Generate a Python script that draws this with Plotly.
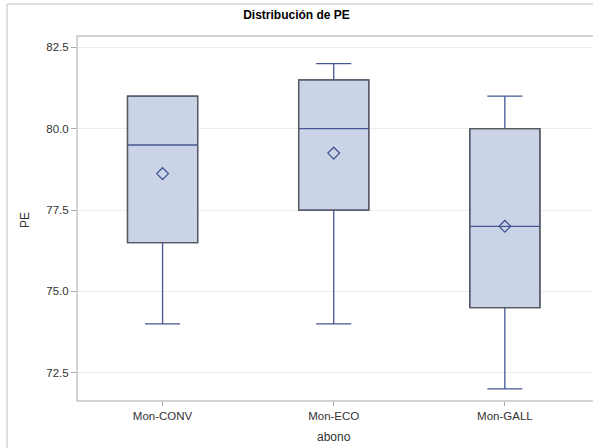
import plotly.graph_objects as go

categories = ["Mon-CONV", "Mon-ECO", "Mon-GALL"]
q1_vals = [76.5, 77.5, 74.5]
median_vals = [79.5, 80.0, 77.0]
q3_vals = [81.0, 81.5, 80.0]
min_vals = [74.0, 74.0, 72.0]
max_vals = [81.0, 82.0, 81.0]
mean_vals = [78.62, 79.25, 77.0]
y_ticks = [72.5, 75.0, 77.5, 80.0, 82.5]

BLUE = "#445694"
FILL = "#CAD4E6"
OUTLINE = "#5a5a5a"
FRAME = "#a8a8a8"
FONT = "Liberation Sans, Arial, sans-serif"
BOX_W = 0.41

fig = go.Figure()

fig.add_trace(go.Box(
    x=categories, q1=q1_vals, median=median_vals, q3=q3_vals,
    lowerfence=min_vals, upperfence=max_vals,
    fillcolor=FILL, line=dict(color=BLUE, width=1.3),
    width=BOX_W, whiskerwidth=0.5, boxpoints=False, showlegend=False,
    hoverinfo="skip",
))
fig.add_trace(go.Scatter(
    x=categories, y=mean_vals, mode="markers",
    marker=dict(symbol="diamond-open", size=9, color=BLUE, line=dict(width=1.3, color=BLUE)),
    showlegend=False, hoverinfo="skip",
))

L, T, R, B = 77, 36, 0, 47
W, H = 593, 448
pw, ph = W - L - R, H - T - B

outline_shapes = [
    dict(type="rect", xref="x", yref="y",
         x0=i - BOX_W / 2, x1=i + BOX_W / 2, y0=q1_vals[i], y1=q3_vals[i],
         line=dict(color=OUTLINE, width=1.3), fillcolor="rgba(0,0,0,0)", layer="above")
    for i in range(len(categories))
]

frame_shapes = [
    dict(type="line", xref="paper", yref="paper", x0=0, x1=0, y0=0, y1=1,
         line=dict(color=FRAME, width=1)),
    dict(type="line", xref="paper", yref="paper", x0=0, x1=1.05, y0=1, y1=1,
         line=dict(color=FRAME, width=1)),
    dict(type="line", xref="paper", yref="paper", x0=0, x1=1.05, y0=0, y1=0,
         line=dict(color=FRAME, width=1)),
    dict(type="line", xref="paper", yref="paper",
         x0=(7 - L) / pw, x1=(7 - L) / pw, y0=1 + (T - 4) / ph, y1=-B / ph - 0.01,
         line=dict(color="#d4d4d4", width=1.5)),
    dict(type="line", xref="paper", yref="paper",
         x0=(7 - L) / pw, x1=1.05, y0=1 + (T - 4) / ph, y1=1 + (T - 4) / ph,
         line=dict(color="#d4d4d4", width=1.5)),
]

fig.update_layout(
    width=W, height=H,
    margin=dict(l=L, r=R, t=T, b=B),
    paper_bgcolor="white", plot_bgcolor="white",
    boxmode="overlay",
    font=dict(family=FONT, size=11.5, color="#333333"),
    title=dict(text="<b>Distribución de PE</b>", x=0.5, xref="container",
               y=1 - 15 / H, yref="container", xanchor="center", yanchor="middle",
               font=dict(family=FONT, size=12, color="#000000")),
    xaxis=dict(
        type="category", range=[-0.5, 2.515],
        showline=False,
        ticks="outside", ticklen=4, tickcolor=FRAME,
        showgrid=False, zeroline=False,
        tickfont=dict(family=FONT, size=11.5, color="#333333"),
    ),
    yaxis=dict(
        range=[71.63, 82.85],
        tickvals=y_ticks, ticktext=[f"{v:.1f}" for v in y_ticks],
        showline=False,
        ticks="outside", ticklen=5, tickcolor=FRAME,
        showgrid=True, gridcolor="#ececec", gridwidth=1, zeroline=False,
        tickfont=dict(family=FONT, size=11.5, color="#333333"),
    ),
    annotations=[
        dict(text="PE", xref="paper", yref="paper", x=(25 - L) / pw, y=(H - B - 220) / ph,
             textangle=-90, showarrow=False, xanchor="center", yanchor="middle",
             font=dict(family=FONT, size=12, color="#333333")),
        dict(text="abono", xref="paper", yref="paper", x=(334 - L) / pw, y=-(437 - (H - B)) / ph,
             showarrow=False, xanchor="center", yanchor="middle",
             font=dict(family=FONT, size=12, color="#333333")),
    ],
    shapes=outline_shapes + frame_shapes,
)

fig.write_html("out.html")
